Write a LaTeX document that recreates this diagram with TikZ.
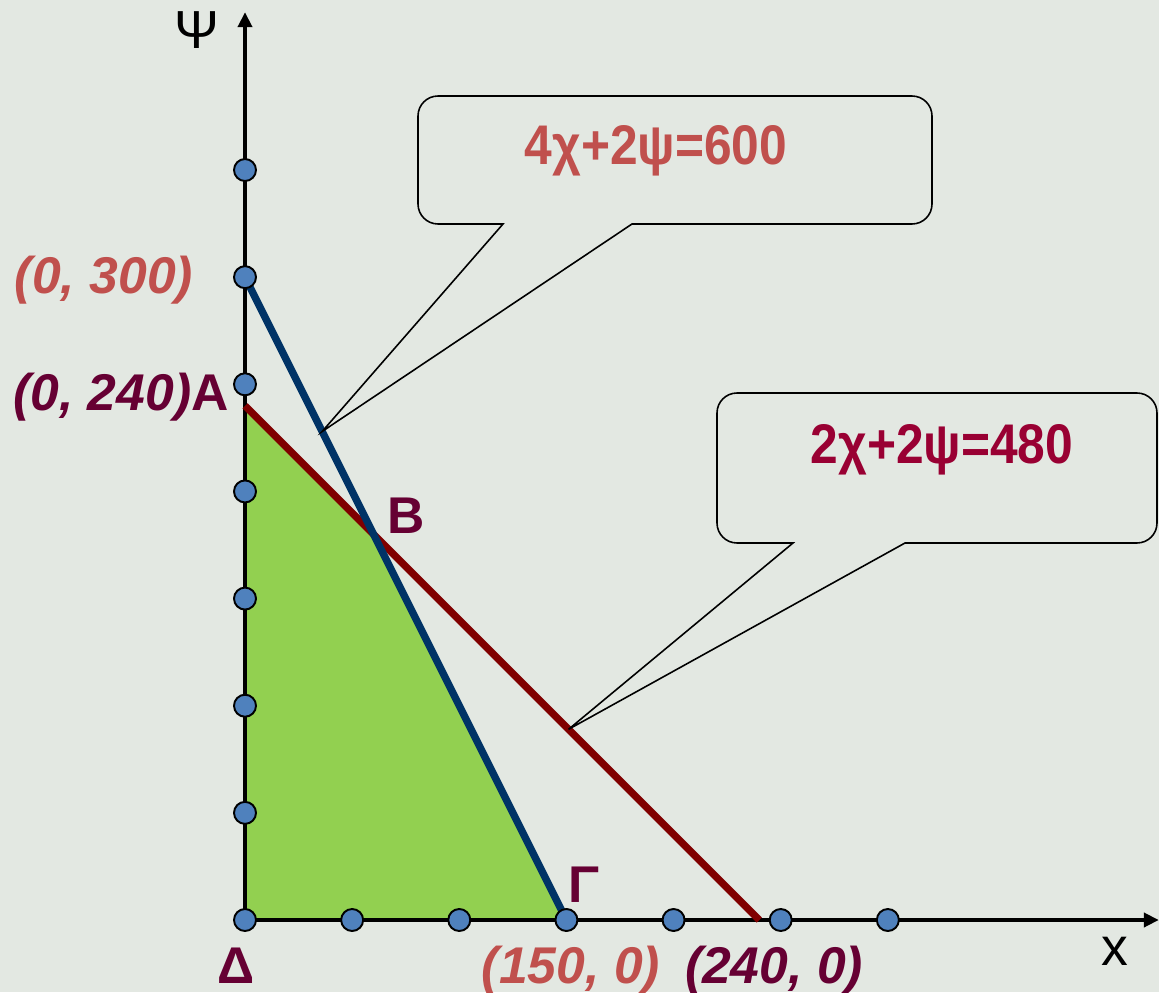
\documentclass[tikz,border=0pt]{standalone}
\usepackage{fontspec}
\setmainfont{Liberation Sans}
\newfontfamily\eqfont[FakeStretch=0.89]{Liberation Sans}
\usetikzlibrary{arrows.meta,calc}
\definecolor{bgcol}{HTML}{E3E8E2}
\definecolor{feascol}{HTML}{92D050}
\definecolor{bluecol}{HTML}{003366}
\definecolor{redcol}{HTML}{800000}
\definecolor{dotcol}{HTML}{4F81BD}
\definecolor{lblred}{HTML}{C0504D}
\definecolor{lblmar}{HTML}{660033}
\definecolor{eqcrim}{HTML}{990033}
\tikzset{
  axis/.style={line width=2.3pt,-{Triangle[length=0.3cm,width=0.28cm]}},
  constr/.style={line width=4.2pt},
  dot/.style={circle,draw=black,fill=dotcol,line width=1.1pt,minimum size=0.44cm,inner sep=0pt},
  callout/.style={draw=black,line width=0.9pt},
  eqn/.style={font=\eqfont\fontsize{31.8}{38}\selectfont\bfseries,anchor=base,inner sep=0pt},
  lbl/.style={font=\fontsize{29.4}{35}\selectfont\bfseries\itshape,anchor=base,inner sep=0pt},
  vtx/.style={font=\fontsize{29.4}{35}\selectfont\bfseries,text=lblmar,anchor=base,inner sep=0pt},
  axlbl/.style={font=\fontsize{30.5}{36}\selectfont,anchor=base,inner sep=0pt}
}
\begin{document}
\begin{tikzpicture}[x=0.02cm,y=0.02cm]
  \fill[bgcol] (0,0) rectangle (1159,992);
  \useasboundingbox (0,0) rectangle (1159,992);
  \coordinate (O) at (245,72);
  % data points (1 unit = 2.143px)
  \begin{scope}[shift={(O)},x=0.04286cm,y=0.04286cm]
    \coordinate (D) at (0,0);
    \coordinate (A) at (0,240);
    \coordinate (B) at (60,180);
    \coordinate (G) at (150,0);
    \coordinate (P300) at (0,300);
    \coordinate (Q240) at (240,0);
    \coordinate (tip1) at (36,228);
    \coordinate (tip2) at (151,89);
    \coordinate (ytop) at (0,423.7);
    \coordinate (xend) at (426.5,0);
  \end{scope}

  \fill[feascol] (D) -- (A) -- (B) -- (G) -- cycle;
  \draw[axis] (D) -- (ytop);
  \draw[axis] (D) -- (xend);
  \draw[constr,redcol] (A) -- (Q240);
  \draw[constr,bluecol] (P300) -- (G);

  \foreach \k in {1,...,7}
    \node[dot] (y\k) at (245,{72+107.14*\k}) {};
  \foreach \k in {0,...,6}
    \node[dot] (x\k) at ({245+107.14*\k},72) {};

  % callouts
  \draw[callout] (tip1) -- (632,768) [rounded corners=0.4cm] -- (932,768) -- (932,896) -- (418,896) -- (418,768) [sharp corners] -- (503,768) -- cycle;
  \draw[callout] (tip2) -- (905,449) [rounded corners=0.4cm] -- (1157,449) -- (1157,599) -- (717,599) -- (717,449) [sharp corners] -- (793,449) -- cycle;
  \node[eqn,text=lblred] (eq1) at (656,827) {4χ+2ψ=600};
  \node[eqn,text=eqcrim] (eq2) at (942,529) {2χ+2ψ=480};

  % labels
  \node[lbl,text=lblred] (l300) at (104,699) {(0, 300)};
  \node[vtx] (l240) at (121,582) {{\itshape (0, 240)}A};
  \node[vtx] (lB) at (406,459) {B};
  \node[vtx] (lG) at (584,90) {Γ};
  \node[vtx] (lD) at (236,9) {Δ};
  \node[lbl,text=lblred] (l150) at (571,9) {(150, 0)};
  \node[lbl,text=lblmar] (l240x) at (774,9) {(240, 0)};
  \node[axlbl] (lpsi) at (197,943) {Ψ};
  \node[axlbl] (lx) at (1115,27) {x};
\end{tikzpicture}
\end{document}
